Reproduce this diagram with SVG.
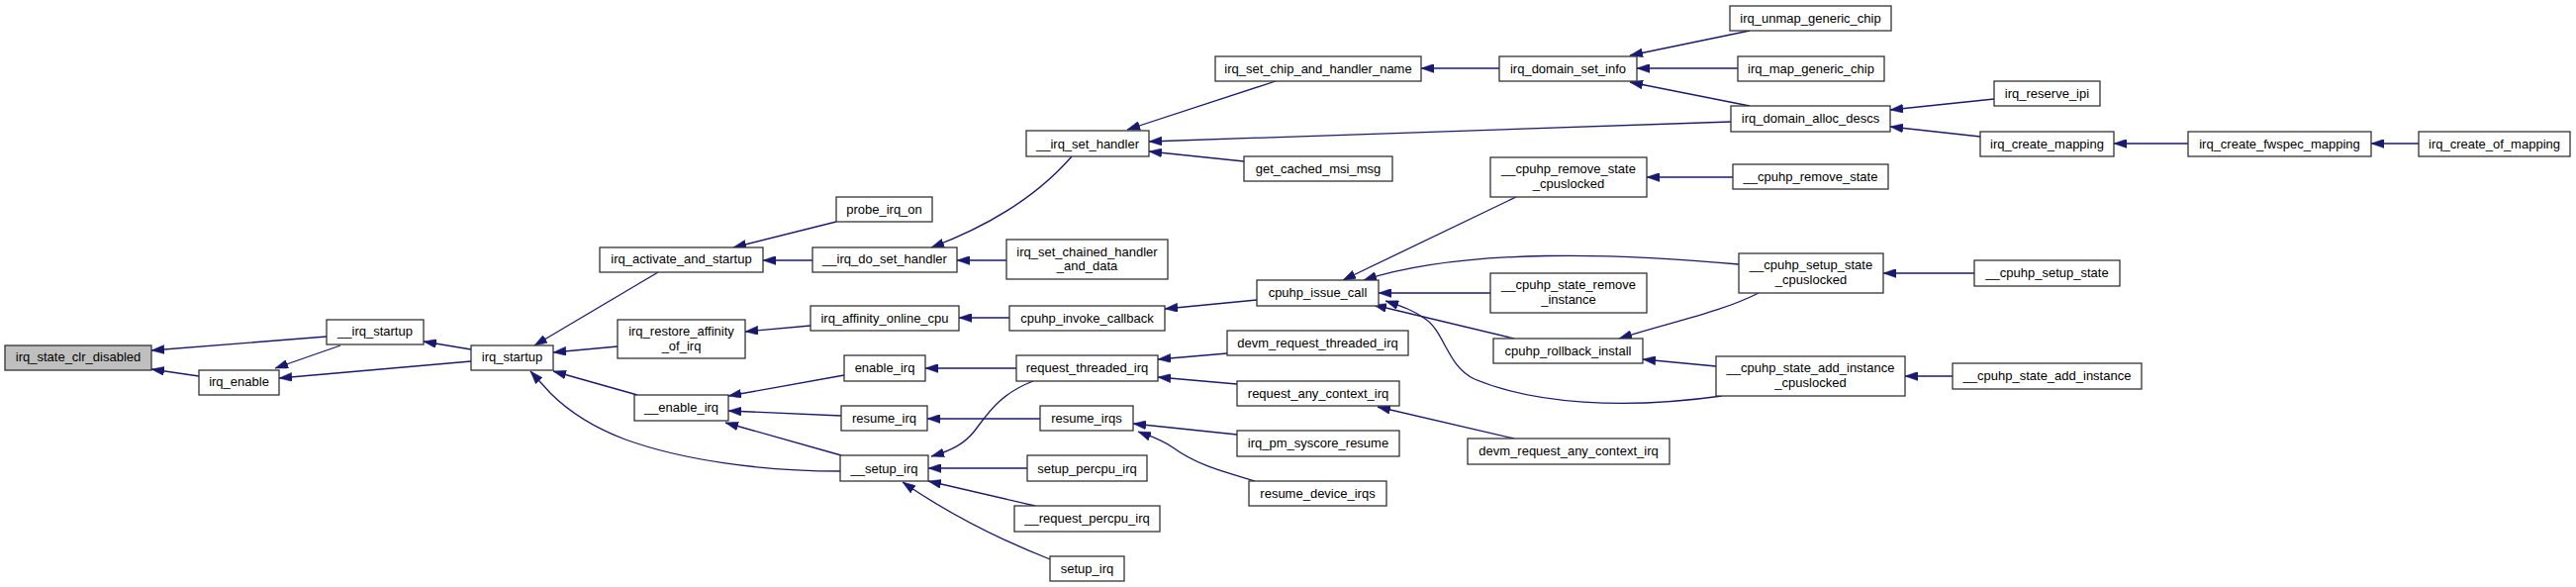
<svg xmlns="http://www.w3.org/2000/svg" width="2603" height="593" viewBox="0 0 2603 593">
<style>
.node rect{fill:#ffffff;stroke:#333333;stroke-width:1.3}
.node rect.hl{fill:#bfbfbf}
.node text{font-family:"Liberation Sans",Arial,sans-serif;font-size:13px;fill:#000000;text-anchor:middle}
.edges path{fill:none;stroke:#191970;stroke-width:1.3;marker-end:url(#arr)}
</style>
<defs>
<marker id="arr" markerUnits="userSpaceOnUse" markerWidth="13" markerHeight="9" refX="13" refY="4.5" orient="auto">
<path d="M0,0 L13,4.5 L0,9 Z" fill="#191970" stroke="#191970" stroke-width="0.5"/>
</marker>
</defs>
<rect x="0" y="0" width="2603" height="593" fill="#ffffff"/>
<g class="edges" id="edges">
<path d="M330,340 L153,354"/>
<path d="M201,380 L153,373"/>
<path d="M344,349 L278,372"/>
<path d="M476,365 L282,382"/>
<path d="M476,353 L428,345"/>
<path d="M665,275 L540,349"/>
<path d="M624,350 L559,356"/>
<path d="M644,399 L559,375"/>
<path d="M849,476 C 770,476 690,465 632,444 C 600,432 575,416 556,397 L 536,375"/>
<path d="M845,224 L741,250"/>
<path d="M821,263 L771,263"/>
<path d="M1083,158 C 1050,196 1005,226 941,250"/>
<path d="M1017,263 L967,263"/>
<path d="M1289,82 L1139,131"/>
<path d="M1749,123 L1161,143"/>
<path d="M1257,163 L1161,153"/>
<path d="M1515,69 L1436,69"/>
<path d="M1768,31 L1647,56"/>
<path d="M1756,69 L1654,69"/>
<path d="M1768,107 L1647,83"/>
<path d="M2015,100 L1910,111"/>
<path d="M2001,138 L1910,128"/>
<path d="M2211,145 L2136,145"/>
<path d="M2444,145 L2396,145"/>
<path d="M819,329 L753,335"/>
<path d="M1020,321 L969,321"/>
<path d="M1270,303 L1177,312"/>
<path d="M1532,199 L1357,283"/>
<path d="M1757,267 C 1640,256 1480,250 1378,283"/>
<path d="M1506,296 L1393,296"/>
<path d="M1530,342 L1388,308"/>
<path d="M1740,400 C 1640,414 1550,408 1490,383 C 1462,370 1460,335 1440,322 C 1428,313 1415,309 1400,304"/>
<path d="M1751,179 L1664,179"/>
<path d="M1777,296 C 1740,315 1690,325 1636,342"/>
<path d="M1734,370 L1660,363"/>
<path d="M1995,276 L1903,276"/>
<path d="M1973,380 L1925,380"/>
<path d="M853,379 L736,400"/>
<path d="M850,420 L736,415"/>
<path d="M850,460 L733,427"/>
<path d="M1027,372 L935,372"/>
<path d="M1051,423 L937,423"/>
<path d="M1044,385 C 1010,398 998,418 985,435 C 975,448 962,455 941,461"/>
<path d="M1038,473 L938,473"/>
<path d="M1046,511 L938,486"/>
<path d="M1061,565 C 1010,545 960,520 912,487"/>
<path d="M1240,357 L1170,363"/>
<path d="M1250,388 L1170,381"/>
<path d="M1530,443 L1392,411"/>
<path d="M1250,439 L1145,428"/>
<path d="M1268,486 C 1235,476 1210,470 1185,452 C 1170,442 1160,440 1150,436"/>
</g>
<g class="node" id="n_irq_state_clr_disabled"><rect class="hl" x="5" y="349" width="148" height="25"/><text x="79" y="365">irq_state_clr_disabled</text></g>
<g class="node" id="n___irq_startup"><rect x="330" y="323" width="98" height="25"/><text x="379" y="339">__irq_startup</text></g>
<g class="node" id="n_irq_enable"><rect x="201" y="374" width="81" height="25"/><text x="241.5" y="390">irq_enable</text></g>
<g class="node" id="n_irq_startup"><rect x="476" y="349" width="83" height="25"/><text x="517.5" y="365">irq_startup</text></g>
<g class="node" id="n_irq_activate_and_startup"><rect x="606" y="250" width="165" height="25"/><text x="688.5" y="266">irq_activate_and_startup</text></g>
<g class="node" id="n_irq_restore_affinity_of_irq"><rect x="624" y="323" width="129" height="39"/><text x="688.5" y="339">irq_restore_affinity</text><text x="688.5" y="354">_of_irq</text></g>
<g class="node" id="n___enable_irq"><rect x="641" y="399" width="95" height="26"/><text x="688.5" y="416">__enable_irq</text></g>
<g class="node" id="n___setup_irq"><rect x="849" y="460" width="89" height="26"/><text x="893.5" y="477.5">__setup_irq</text></g>
<g class="node" id="n_probe_irq_on"><rect x="845" y="199" width="97" height="25"/><text x="893.5" y="215.5">probe_irq_on</text></g>
<g class="node" id="n___irq_do_set_handler"><rect x="821" y="250" width="146" height="25"/><text x="894" y="266">__irq_do_set_handler</text></g>
<g class="node" id="n_irq_set_chained_handler_and_data"><rect x="1017" y="242" width="163" height="40"/><text x="1098.5" y="259">irq_set_chained_handler</text><text x="1098.5" y="273">_and_data</text></g>
<g class="node" id="n___irq_set_handler"><rect x="1037" y="132" width="124" height="26"/><text x="1099" y="149.5">__irq_set_handler</text></g>
<g class="node" id="n_irq_affinity_online_cpu"><rect x="819" y="309" width="150" height="25"/><text x="894" y="325.5">irq_affinity_online_cpu</text></g>
<g class="node" id="n_enable_irq"><rect x="853" y="359" width="82" height="26"/><text x="894" y="376">enable_irq</text></g>
<g class="node" id="n_resume_irq"><rect x="850" y="410" width="87" height="25"/><text x="893.5" y="427">resume_irq</text></g>
<g class="node" id="n_request_threaded_irq"><rect x="1027" y="359" width="143" height="26"/><text x="1098.5" y="376">request_threaded_irq</text></g>
<g class="node" id="n_resume_irqs"><rect x="1051" y="410" width="94" height="25"/><text x="1098" y="427">resume_irqs</text></g>
<g class="node" id="n_setup_percpu_irq"><rect x="1038" y="460" width="121" height="26"/><text x="1098.5" y="477.5">setup_percpu_irq</text></g>
<g class="node" id="n___request_percpu_irq"><rect x="1025" y="511" width="147" height="26"/><text x="1098.5" y="528">__request_percpu_irq</text></g>
<g class="node" id="n_setup_irq"><rect x="1061" y="562" width="75" height="25"/><text x="1098.5" y="578.5">setup_irq</text></g>
<g class="node" id="n_cpuhp_invoke_callback"><rect x="1020" y="309" width="157" height="25"/><text x="1098.5" y="325.5">cpuhp_invoke_callback</text></g>
<g class="node" id="n_irq_set_chip_and_handler_name"><rect x="1228" y="57" width="208" height="25"/><text x="1332" y="73.5">irq_set_chip_and_handler_name</text></g>
<g class="node" id="n_get_cached_msi_msg"><rect x="1257" y="158" width="150" height="25"/><text x="1332" y="174.5">get_cached_msi_msg</text></g>
<g class="node" id="n_cpuhp_issue_call"><rect x="1270" y="283" width="123" height="26"/><text x="1331.5" y="300">cpuhp_issue_call</text></g>
<g class="node" id="n_devm_request_threaded_irq"><rect x="1240" y="334" width="183" height="25"/><text x="1331.5" y="350.5">devm_request_threaded_irq</text></g>
<g class="node" id="n_request_any_context_irq"><rect x="1250" y="385" width="164" height="25"/><text x="1332" y="401.5">request_any_context_irq</text></g>
<g class="node" id="n_irq_pm_syscore_resume"><rect x="1250" y="435" width="164" height="26"/><text x="1332" y="452">irq_pm_syscore_resume</text></g>
<g class="node" id="n_resume_device_irqs"><rect x="1262" y="486" width="139" height="25"/><text x="1331.5" y="502.5">resume_device_irqs</text></g>
<g class="node" id="n_irq_domain_set_info"><rect x="1515" y="57" width="139" height="25"/><text x="1584.5" y="73.5">irq_domain_set_info</text></g>
<g class="node" id="n___cpuhp_remove_state_cpuslocked"><rect x="1506" y="159" width="158" height="40"/><text x="1585" y="175">__cpuhp_remove_state</text><text x="1585" y="190">_cpuslocked</text></g>
<g class="node" id="n___cpuhp_state_remove_instance"><rect x="1506" y="276" width="158" height="40"/><text x="1585" y="292">__cpuhp_state_remove</text><text x="1585" y="307">_instance</text></g>
<g class="node" id="n_cpuhp_rollback_install"><rect x="1509" y="342" width="151" height="25"/><text x="1584.5" y="358.5">cpuhp_rollback_install</text></g>
<g class="node" id="n_devm_request_any_context_irq"><rect x="1483" y="443" width="204" height="26"/><text x="1585" y="460">devm_request_any_context_irq</text></g>
<g class="node" id="n_irq_unmap_generic_chip"><rect x="1748" y="6" width="163" height="25"/><text x="1829.5" y="22.5">irq_unmap_generic_chip</text></g>
<g class="node" id="n_irq_map_generic_chip"><rect x="1756" y="57" width="148" height="25"/><text x="1830" y="73.5">irq_map_generic_chip</text></g>
<g class="node" id="n_irq_domain_alloc_descs"><rect x="1749" y="107" width="161" height="26"/><text x="1829.5" y="124">irq_domain_alloc_descs</text></g>
<g class="node" id="n___cpuhp_remove_state"><rect x="1751" y="166" width="157" height="25"/><text x="1829.5" y="182.5">__cpuhp_remove_state</text></g>
<g class="node" id="n___cpuhp_setup_state_cpuslocked"><rect x="1757" y="256" width="146" height="40"/><text x="1830" y="272">__cpuhp_setup_state</text><text x="1830" y="287">_cpuslocked</text></g>
<g class="node" id="n___cpuhp_state_add_instance_cpuslocked"><rect x="1734" y="360" width="191" height="40"/><text x="1829.5" y="376">__cpuhp_state_add_instance</text><text x="1829.5" y="391">_cpuslocked</text></g>
<g class="node" id="n_irq_reserve_ipi"><rect x="2015" y="82" width="107" height="25"/><text x="2068.5" y="98.5">irq_reserve_ipi</text></g>
<g class="node" id="n_irq_create_mapping"><rect x="2001" y="133" width="135" height="25"/><text x="2068.5" y="149.5">irq_create_mapping</text></g>
<g class="node" id="n___cpuhp_setup_state"><rect x="1995" y="263" width="147" height="26"/><text x="2068.5" y="280">__cpuhp_setup_state</text></g>
<g class="node" id="n___cpuhp_state_add_instance"><rect x="1973" y="367" width="191" height="26"/><text x="2068.5" y="384">__cpuhp_state_add_instance</text></g>
<g class="node" id="n_irq_create_fwspec_mapping"><rect x="2211" y="133" width="185" height="25"/><text x="2303.5" y="149.5">irq_create_fwspec_mapping</text></g>
<g class="node" id="n_irq_create_of_mapping"><rect x="2444" y="133" width="153" height="25"/><text x="2520.5" y="149.5">irq_create_of_mapping</text></g>
</svg>
